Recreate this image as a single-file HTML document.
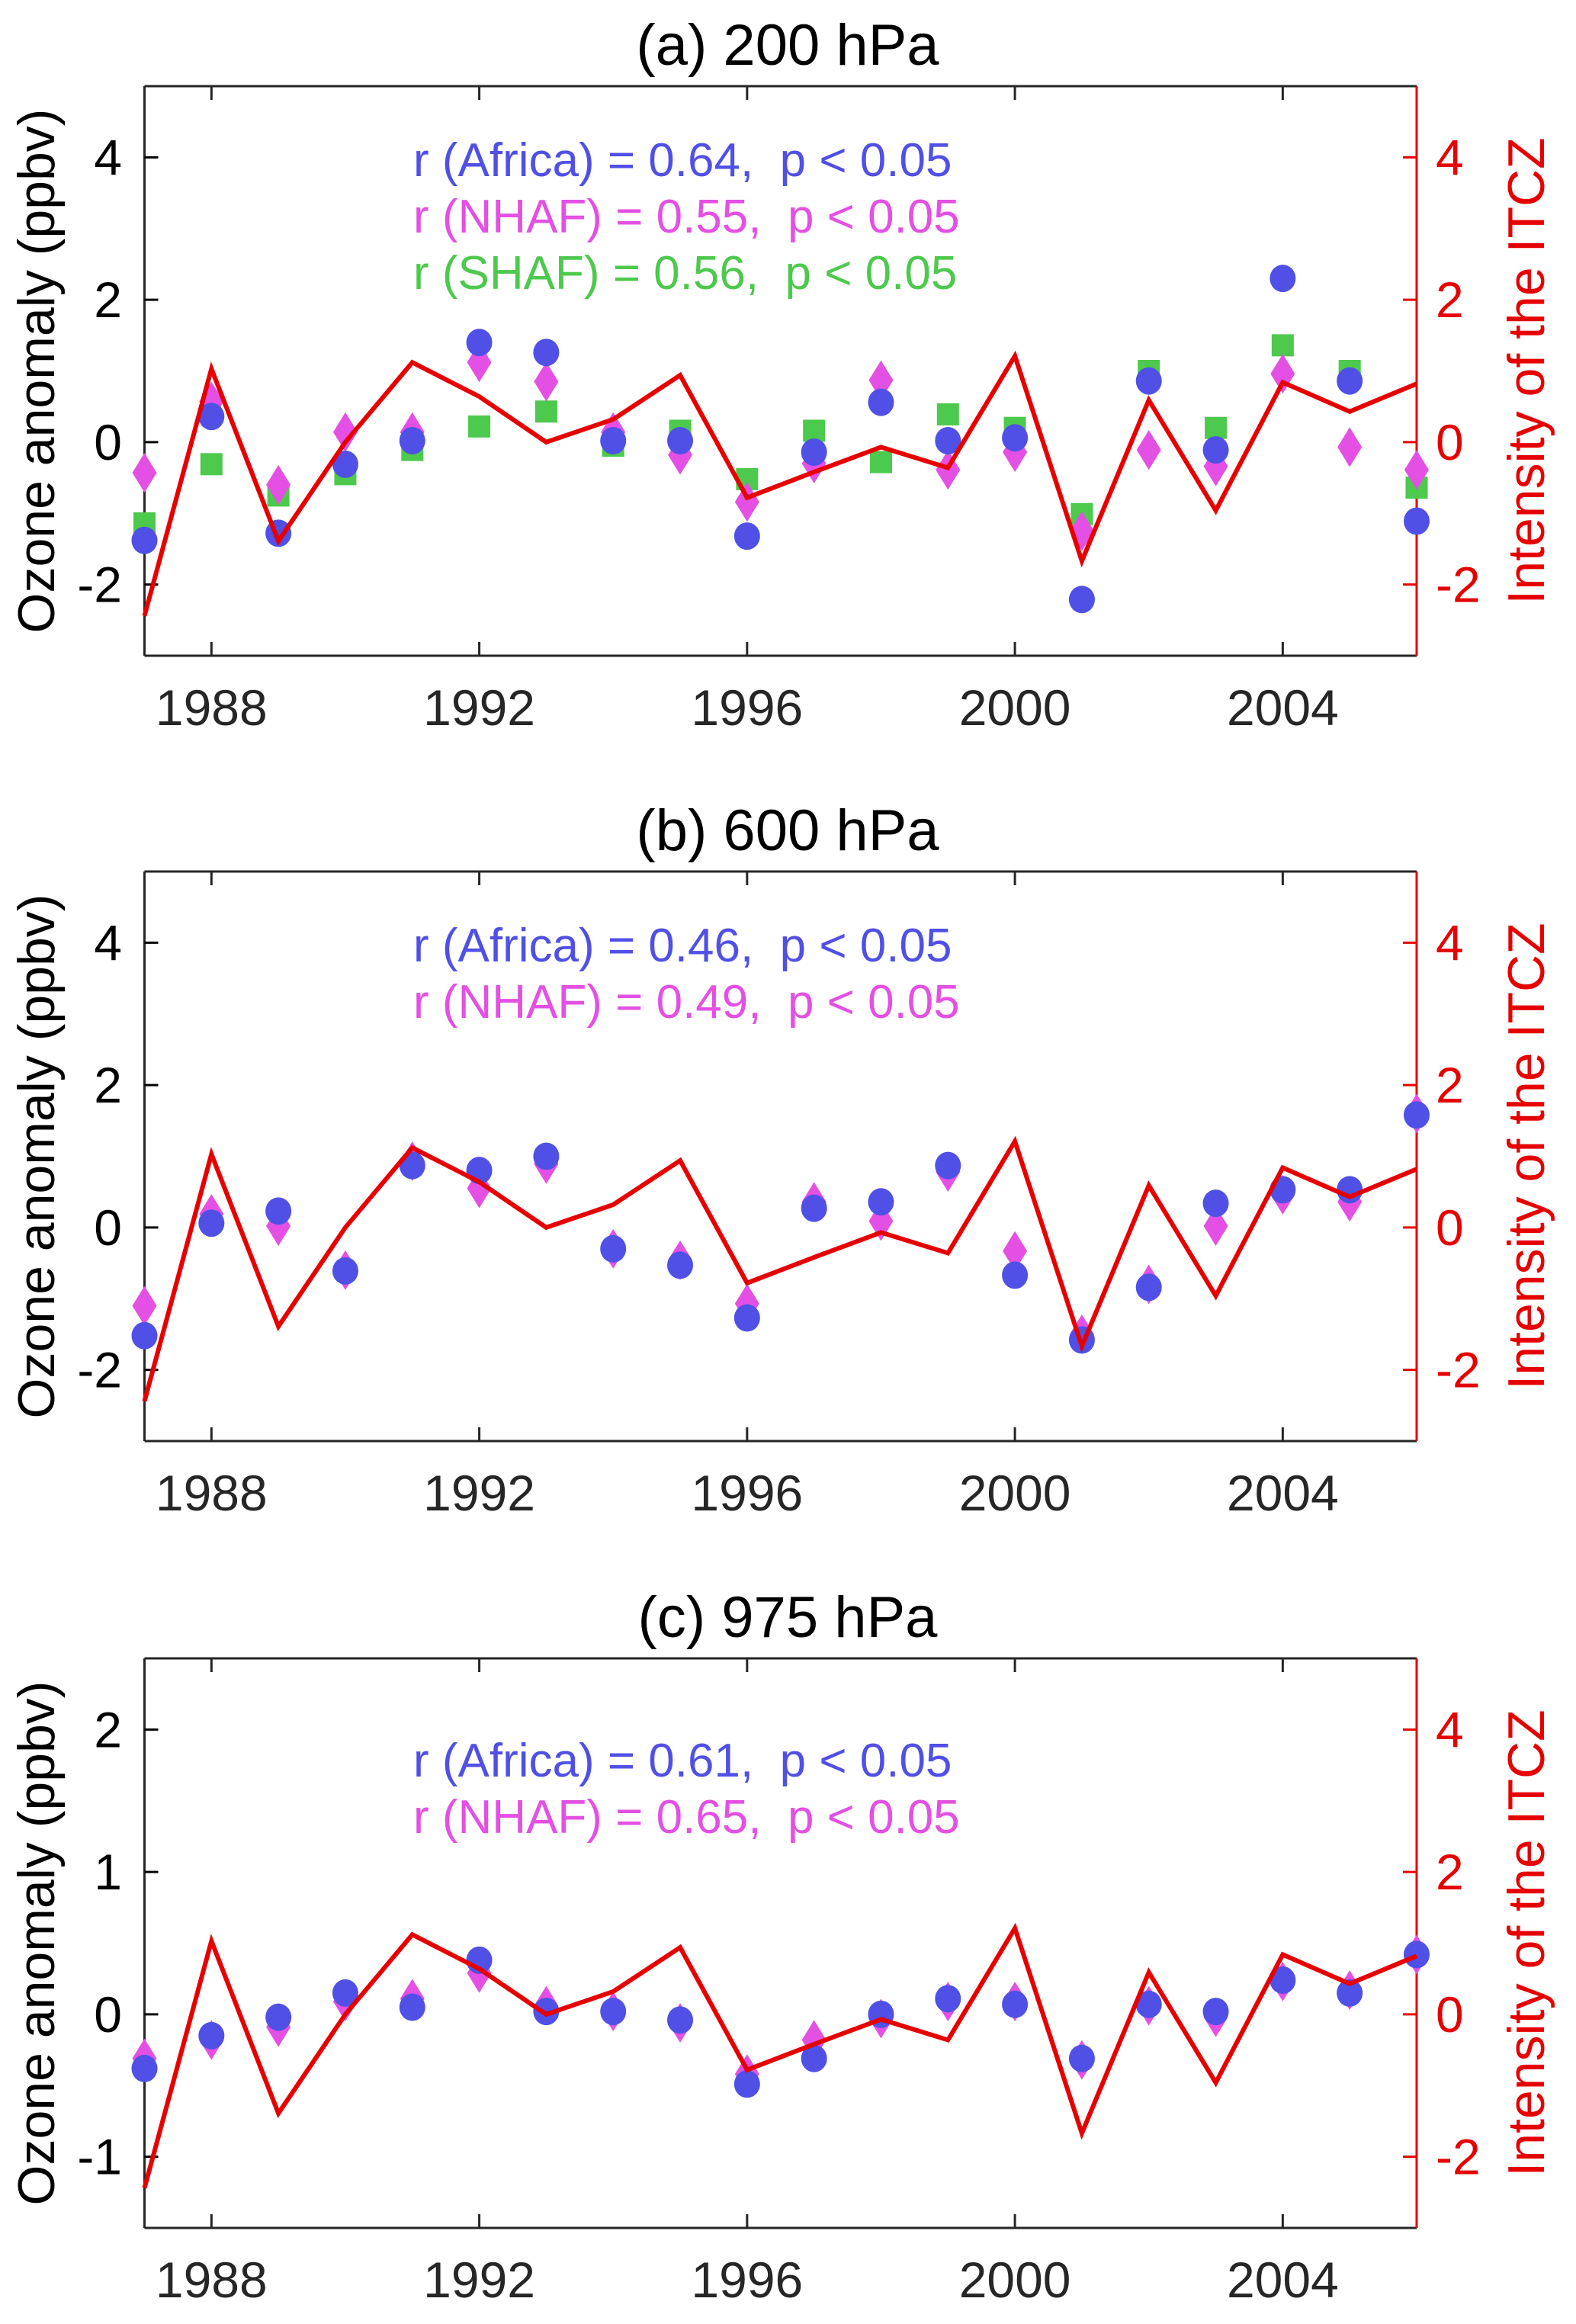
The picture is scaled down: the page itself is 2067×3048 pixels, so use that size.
<!DOCTYPE html>
<html><head><meta charset="utf-8"><style>
html,body{margin:0;padding:0;background:#fff;}
svg{display:block;font-family:"Liberation Sans",Arial,sans-serif;}
.ann{white-space:pre;}
</style></head><body>
<svg id="fig" width="2067" height="3048" viewBox="0 0 2067 3048" xmlns="http://www.w3.org/2000/svg"></svg>
<script>
const years = [1987,1988,1989,1990,1991,1992,1993,1994,1995,1996,1997,1998,1999,2000,2001,2002,2003,2004,2005,2006];
const itcz = [-2.44,1.03,-1.39,0.0,1.12,0.64,0.0,0.32,0.94,-0.78,-0.42,-0.07,-0.36,1.21,-1.67,0.59,-0.96,0.84,0.43,0.82];
const a_africa = [-1.38,0.36,-1.28,-0.31,0.02,1.40,1.26,0.02,0.02,-1.32,-0.14,0.56,0.02,0.06,-2.21,0.86,-0.11,2.30,0.86,-1.11];
const a_nhaf = [-0.43,0.57,-0.60,0.14,0.14,1.12,0.85,0.14,-0.18,-0.84,-0.30,0.87,-0.39,-0.14,-1.25,-0.11,-0.34,0.96,-0.07,-0.39];
const a_shaf = [-1.14,-0.31,-0.75,-0.45,-0.11,0.22,0.43,-0.05,0.16,-0.52,0.16,-0.28,0.39,0.20,-1.01,1.00,0.20,1.36,1.00,-0.64];
const b_africa = [-1.52,0.06,0.23,-0.61,0.87,0.80,1.00,-0.30,-0.53,-1.27,0.27,0.36,0.87,-0.67,-1.58,-0.84,0.34,0.53,0.53,1.58];
const b_nhaf = [-1.10,0.19,0.02,-0.60,0.93,0.55,0.89,-0.30,-0.46,-1.07,0.36,0.09,0.78,-0.33,-1.50,-0.80,0.02,0.46,0.36,1.60];
const c_africa = [-0.38,-0.15,-0.02,0.15,0.05,0.38,0.02,0.02,-0.04,-0.49,-0.31,0.00,0.11,0.07,-0.31,0.07,0.02,0.24,0.15,0.42];
const c_nhaf = [-0.31,-0.18,-0.09,0.09,0.11,0.29,0.06,0.02,-0.06,-0.42,-0.18,-0.03,0.09,0.09,-0.32,0.06,-0.02,0.23,0.17,0.42];
const xTicks = [1988,1992,1996,2000,2004];
const rightTicks = [4,2,0,-2];
const leftTicksAB = [4,2,0,-2];
const leftTicksC = [2,1,0,-1];

const NS="http://www.w3.org/2000/svg";
const svg=document.getElementById('fig');
function el(tag,attrs,parent,text){const e=document.createElementNS(NS,tag);for(const k in attrs)e.setAttribute(k,attrs[k]);if(text!==undefined)e.textContent=text;(parent||svg).appendChild(e);return e;}
const BLUE='#5050e6',MAG='#e350e3',GREEN='#4dc94d',RED='#e60000';
const X0=189.5,X1=1858;
function xs(y){return X0+(y-1987)*(X1-X0)/(2006-1987);}

function panel(id,top,title,lmin,lmax,lticks,series,ann,annBase){
  const bot=top+747;
  const g=el('g',{});
  
  
  const yl=v=>bot-(v-lmin)*(bot-top)/(lmax-lmin);
  const yr=v=>bot-(v+3)*(bot-top)/8;
  const t=el('text',{x:1033,y:top-28,'font-size':76,'text-anchor':'middle',fill:'#000'},g,title);
  
  
  const ax=el('path',{d:`M${X0} ${top}H${X1}M${X0} ${bot}H${X1}M${X0} ${top}V${bot}`,stroke:'#262626','stroke-width':3,fill:'none'},g);
  
  
  const ra=el('line',{x1:X1,y1:top,x2:X1,y2:bot,stroke:RED,'stroke-width':3},g);
  
  
  xTicks.forEach(yr_=>{
    const x=xs(yr_);
    el('line',{x1:x,y1:bot,x2:x,y2:bot-18,stroke:'#262626','stroke-width':3},g);
    el('line',{x1:x,y1:top,x2:x,y2:top+18,stroke:'#262626','stroke-width':3},g);
    const tl=el('text',{x:x,y:bot+91,'font-size':66,'text-anchor':'middle',fill:'#262626'},g,String(yr_));
    
    
  });
  lticks.forEach(v=>{
    const y=yl(v);
    el('line',{x1:X0,y1:y,x2:X0+18,y2:y,stroke:'#000','stroke-width':3},g);
    const tl=el('text',{x:160,y:y+23,'font-size':66,'text-anchor':'end',fill:'#000'},g,String(v));
    
    
  });
  rightTicks.forEach(v=>{
    const y=yr(v);
    el('line',{x1:X1,y1:y,x2:X1-18,y2:y,stroke:RED,'stroke-width':3},g);
    const tl=el('text',{x:1883,y:y+23,'font-size':66,fill:RED},g,String(v));
    
    
  });
  const cy=(top+bot)/2;
  const ll=el('text',{x:0,y:0,'font-size':68,'text-anchor':'middle',fill:'#000',transform:`translate(71,${cy}) rotate(-90)`},g,'Ozone anomaly (ppbv)');
  
  
  const rl=el('text',{x:0,y:0,'font-size':68,'text-anchor':'middle',fill:RED,transform:`translate(2025,${cy}) rotate(-90)`},g,'Intensity of the ITCZ');
  
  
  ann.forEach((a,i)=>{
    const at=el('text',{x:542,y:top+annBase+i*74,'font-size':62,fill:a[1],'class':'ann'},g,a[0]);
    
    
  });
  series.forEach(s=>{
    s.vals.forEach((v,i)=>{
      const x=xs(years[i]),y=yl(v);
      let m;
      if(s.shape==='sq') m=el('rect',{x:x-14.5,y:y-14.5,width:29,height:29,fill:s.c},g);
      else if(s.shape==='di') m=el('polygon',{points:`${x},${y-26} ${x+16},${y} ${x},${y+26} ${x-16},${y}`,fill:s.c},g);
      else m=el('ellipse',{cx:x,cy:y,rx:17,ry:18,fill:s.c},g);
      
      
    });
  });
  const pts=itcz.map((v,i)=>xs(years[i])+','+yr(v)).join(' ');
  const ln=el('polyline',{points:pts,fill:'none',stroke:RED,'stroke-width':6,'stroke-linejoin':'miter'},g);
  
  
}
panel('a',113,'(a) 200 hPa',-3,5,leftTicksAB,
  [{vals:a_shaf,c:GREEN,shape:'sq',name:'shaf'},{vals:a_nhaf,c:MAG,shape:'di',name:'nhaf'},{vals:a_africa,c:BLUE,shape:'ci',name:'africa'}],
  [['r (Africa) = 0.64,  p < 0.05',BLUE],['r (NHAF) = 0.55,  p < 0.05',MAG],['r (SHAF) = 0.56,  p < 0.05',GREEN]],118);
panel('b',1143,'(b) 600 hPa',-3,5,leftTicksAB,
  [{vals:b_nhaf,c:MAG,shape:'di',name:'nhaf'},{vals:b_africa,c:BLUE,shape:'ci',name:'africa'}],
  [['r (Africa) = 0.46,  p < 0.05',BLUE],['r (NHAF) = 0.49,  p < 0.05',MAG]],118);
panel('c',2175,'(c) 975 hPa',-1.5,2.5,leftTicksC,
  [{vals:c_nhaf,c:MAG,shape:'di',name:'nhaf'},{vals:c_africa,c:BLUE,shape:'ci',name:'africa'}],
  [['r (Africa) = 0.61,  p < 0.05',BLUE],['r (NHAF) = 0.65,  p < 0.05',MAG]],155);
</script>
</body></html>
